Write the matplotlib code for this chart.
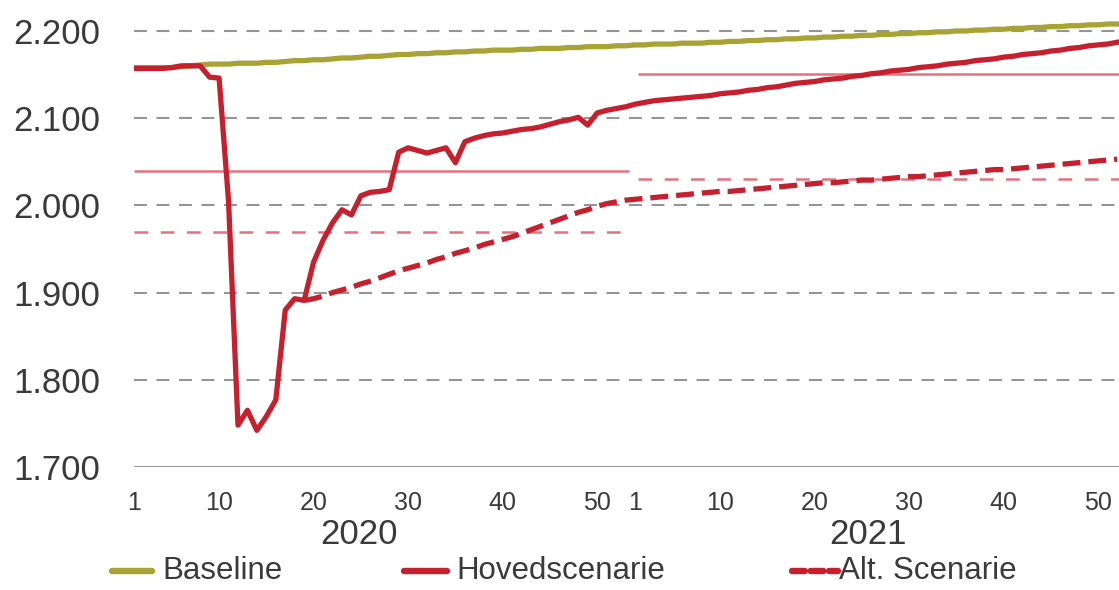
import matplotlib
matplotlib.use('Agg')
import matplotlib.pyplot as plt
from matplotlib.lines import Line2D
import matplotlib.transforms as mtransforms

plt.rcParams['font.family'] = ['Liberation Sans', 'DejaVu Sans']

# ---------------- data ----------------
weeks_2020 = list(range(1, 54))   # 2020 has 53 ISO weeks
weeks_2021 = list(range(1, 53))
years = ['2020', '2021']
tick_weeks = [1, 10, 20, 30, 40, 50]
y_ticks = [1.7, 1.8, 1.9, 2.0, 2.1, 2.2]

baseline = [
    2.158, 2.158, 2.158, 2.158, 2.158, 2.159, 2.160, 2.161, 2.162, 2.162,
    2.162, 2.163, 2.163, 2.163, 2.164, 2.164, 2.165, 2.166, 2.166, 2.167,
    2.167, 2.168, 2.169, 2.169, 2.170, 2.171, 2.171, 2.172, 2.173, 2.173,
    2.174, 2.174, 2.175, 2.175, 2.176, 2.176, 2.177, 2.177, 2.178, 2.178,
    2.178, 2.179, 2.179, 2.180, 2.180, 2.180, 2.181, 2.181, 2.182, 2.182,
    2.182, 2.183, 2.183, 2.184, 2.184, 2.185, 2.185, 2.185, 2.186, 2.186,
    2.186, 2.187, 2.187, 2.188, 2.188, 2.189, 2.189, 2.190, 2.190, 2.191,
    2.191, 2.192, 2.192, 2.193, 2.193, 2.194, 2.194, 2.195, 2.195, 2.196,
    2.196, 2.197, 2.197, 2.198, 2.198, 2.199, 2.199, 2.200, 2.200, 2.201,
    2.201, 2.202, 2.202, 2.203, 2.203, 2.204, 2.204, 2.205, 2.205, 2.206,
    2.206, 2.207, 2.207, 2.208, 2.208,
]

hovedscenarie = [
    2.157, 2.157, 2.157, 2.157, 2.158, 2.160, 2.160, 2.160, 2.147, 2.146,
    2.005, 1.748, 1.765, 1.742, 1.758, 1.777, 1.880, 1.893, 1.891, 1.935,
    1.960, 1.980, 1.995, 1.989, 2.011, 2.015, 2.016, 2.018, 2.061, 2.066,
    2.063, 2.060, 2.063, 2.066, 2.049, 2.073, 2.077, 2.080, 2.082, 2.083,
    2.085, 2.087, 2.088, 2.090, 2.093, 2.096, 2.098, 2.101, 2.092, 2.106,
    2.109, 2.111, 2.113, 2.116, 2.118, 2.120, 2.121, 2.122, 2.123, 2.124,
    2.125, 2.126, 2.128, 2.129, 2.130, 2.132, 2.133, 2.135, 2.136, 2.138,
    2.140, 2.141, 2.142, 2.144, 2.145, 2.146, 2.148, 2.149, 2.151, 2.152,
    2.154, 2.155, 2.156, 2.158, 2.159, 2.160, 2.162, 2.163, 2.164, 2.166,
    2.167, 2.168, 2.170, 2.171, 2.173, 2.174, 2.175, 2.177, 2.178, 2.180,
    2.181, 2.183, 2.184, 2.185, 2.187,
]

alt_start = 18   # alt. scenario branches off at 2020 week 19
alt_scenarie = [
    1.891, 1.893, 1.896, 1.900, 1.903, 1.906, 1.910, 1.913, 1.917, 1.921,
    1.925, 1.928, 1.931, 1.934, 1.938, 1.941, 1.945, 1.948, 1.951, 1.955,
    1.958, 1.961, 1.964, 1.968, 1.972, 1.976, 1.980, 1.984, 1.988, 1.992,
    1.995, 1.999, 2.002, 2.004, 2.006, 2.007, 2.008, 2.009, 2.010, 2.011,
    2.012, 2.013, 2.014, 2.015, 2.016, 2.016, 2.017, 2.018, 2.019, 2.020,
    2.021, 2.022, 2.023, 2.024, 2.025, 2.026, 2.026, 2.027, 2.028, 2.029,
    2.029, 2.030, 2.031, 2.032, 2.033, 2.033, 2.034, 2.035, 2.036, 2.037,
    2.038, 2.039, 2.040, 2.041, 2.041, 2.042, 2.043, 2.044, 2.045, 2.046,
    2.047, 2.048, 2.049, 2.050, 2.051, 2.052, 2.053,
]

# yearly averages (reference lines)
avg_hoved = [2.039, 2.151]
avg_alt = [1.970, 2.030]

labels = ['Baseline', 'Hovedscenarie', 'Alt. Scenarie']

# ---------------- style ----------------
c_base = '#a9a336'
c_red = '#c6202f'
c_ref = '#e2727d'
c_grid = '#959595'
c_text = '#3a3a3a'

W, H = 1119, 590
fig = plt.figure(figsize=(W / 100, H / 100), dpi=100)
ax = fig.add_axes([134 / W, 1 - 467 / H, 1 - 134 / W, (467 - 4.8) / H])

n2020 = len(weeks_2020)
x_all = list(range(n2020 + len(weeks_2021)))
x_alt = x_all[alt_start:alt_start + len(alt_scenarie)]

# grid lines
for v in y_ticks[1:]:
    ax.axhline(v, color=c_grid, lw=1.5, dashes=(6.2, 4.6), zorder=1)
ax.axhline(y_ticks[0], color=c_grid, lw=1.5, zorder=1)

# reference (average) lines
spans = [(0, n2020 - 0.6), (n2020 + 0.3, x_all[-1] + 1)]
for (x0, x1), h, a in zip(spans, avg_hoved, avg_alt):
    ax.plot([x0, x1], [h, h], color=c_ref, lw=1.8, zorder=2, solid_capstyle='butt')
    ax.plot([x0, x1], [a, a], color=c_ref, lw=1.8, dashes=(5.5, 5.0), zorder=2)

# series
ax.plot(x_all, baseline, color=c_base, lw=3.8, zorder=3, solid_joinstyle='round')
ax.plot(x_alt, alt_scenarie, color=c_red, lw=3.8, dashes=(3.4, 1.5), zorder=4)
ax.plot(x_all, hovedscenarie, color=c_red, lw=3.8, zorder=5, solid_joinstyle='round')

ax.set_xlim(0, 104.2)
ax.set_ylim(1.7, 2.23)

# ticks
xt = [w - 1 for w in tick_weeks] + [n2020 + w - 1 for w in tick_weeks]
ax.set_xticks(xt)
ax.set_xticklabels([str(w) for w in tick_weeks] * 2)
ax.set_yticks(y_ticks)
ax.set_yticklabels([f'{v:.3f}' for v in y_ticks])
ax.tick_params(axis='x', length=0, pad=17, labelsize=18, labelcolor=c_text)
ax.tick_params(axis='y', length=0, pad=24, labelsize=25, labelcolor=c_text)
for s in ax.spines.values():
    s.set_visible(False)

# year labels
trans = mtransforms.blended_transform_factory(ax.transData, fig.transFigure)
year_pos = [23.8, 77.7]
for yr, xp in zip(years, year_pos):
    ax.text(xp, 1 - 534 / H, yr, transform=trans, ha='center', va='center',
            fontsize=25, color=c_text)

# legend (drawn manually to match the spacing of the original)
leg_y = 1 - 571 / H
leg_items = [
    (112, 152, 162, c_base, None),
    (404, 447, 456, c_red, None),
    (792, 838, 839, c_red, (2.0, 0.9)),
]
for (hx0, hx1, tx, col, dash), lab in zip(leg_items, labels):
    kw = dict(color=col, lw=4.6, transform=fig.transFigure, solid_capstyle='round')
    if dash is not None:
        kw['dashes'] = dash
        kw['dash_capstyle'] = 'round'
    fig.add_artist(Line2D([hx0 / W, hx1 / W], [leg_y, leg_y], **kw))
    fig.text(tx / W, leg_y, lab, ha='left', va='center', fontsize=22.5, color=c_text)

fig.savefig('out.png', dpi=100)
